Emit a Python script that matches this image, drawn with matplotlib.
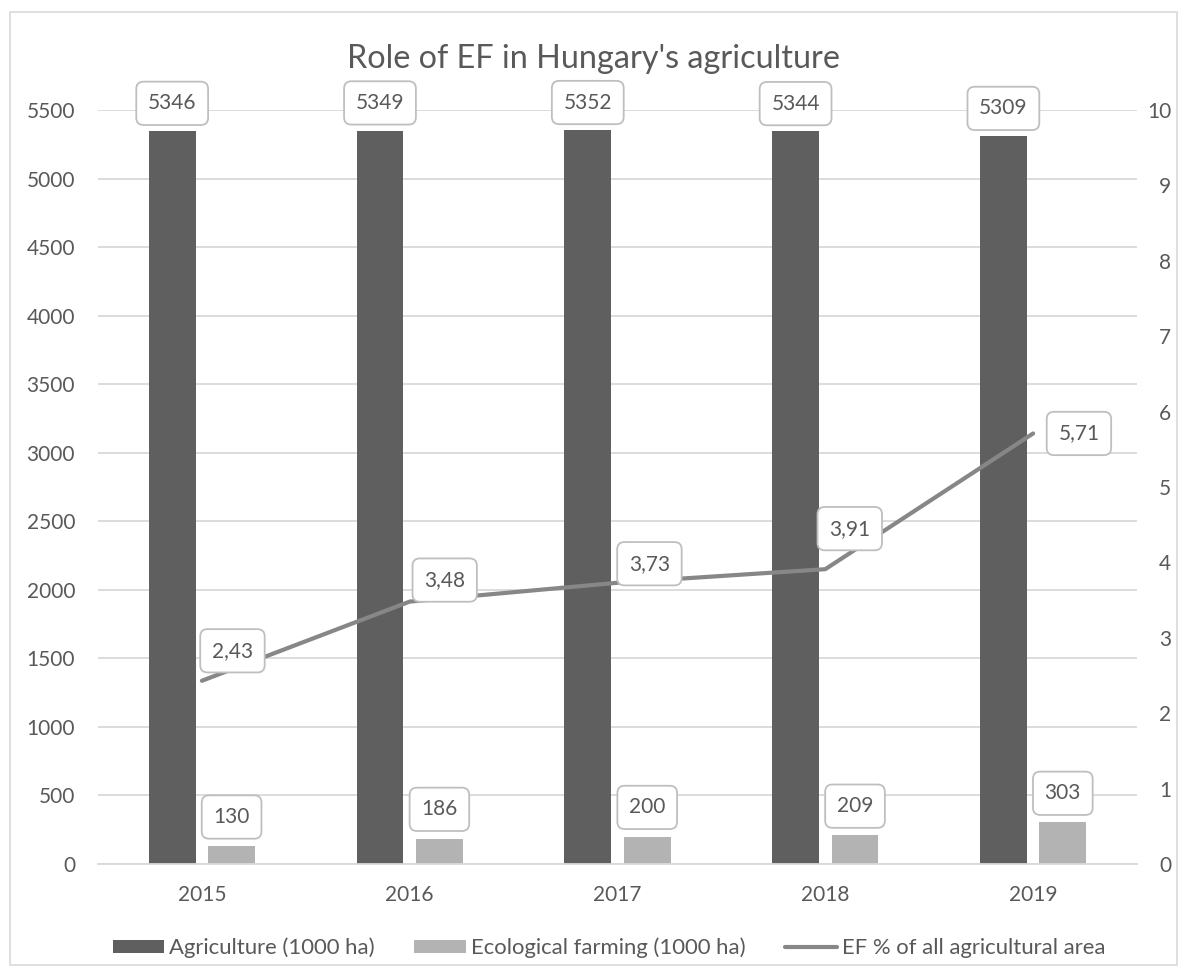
import matplotlib
matplotlib.use("Agg")
import matplotlib.pyplot as plt
import numpy as np
from matplotlib.patches import Rectangle

years = ["2015", "2016", "2017", "2018", "2019"]
agriculture = [5346, 5349, 5352, 5344, 5309]
ecological = [130, 186, 200, 209, 303]
ef_pct = [2.43, 3.48, 3.73, 3.91, 5.71]
ef_labels = ["2,43", "3,48", "3,73", "3,91", "5,71"]
left_ticks = list(range(0, 5501, 500))
right_ticks = list(range(0, 11))

plt.rcParams['font.family'] = ['Lato', 'DejaVu Sans']
TXT = "#595959"
GRID = "#d9d9d9"
DARK = "#5f5f5f"
LIGHT = "#b3b3b3"
LINE = "#878787"
FS = 15

W, H = 1187, 977
fig = plt.figure(figsize=(W / 100, H / 100), dpi=100)
fig.patches.append(Rectangle((10 / W, 12 / H), 1167 / W, 953 / H, transform=fig.transFigure,
                             fill=False, edgecolor=GRID, lw=1.2))

ax = fig.add_axes([98 / W, 1 - 864 / H, (1137 - 98) / W, (864 - 110) / H])
x = np.arange(len(years))
bw = 0.226
off = 0.143
ax.bar(x - off, agriculture, bw, color=DARK, zorder=2, label="Agriculture (1000 ha)")
ax.bar(x + off, ecological, bw, color=LIGHT, zorder=2, label="Ecological farming (1000 ha)")
ax.set_xlim(-0.5, len(years) - 0.5)
ax.set_ylim(0, 5500)
ax.set_yticks(left_ticks)
ax.yaxis.grid(True, color=GRID, lw=1.3, zorder=0)
ax.set_axisbelow(True)
for s in ["top", "right", "left"]:
    ax.spines[s].set_visible(False)
ax.spines["bottom"].set_color(GRID)
ax.spines["bottom"].set_linewidth(1.3)
ax.tick_params(axis="both", length=0, colors=TXT, labelsize=FS)
ax.tick_params(axis="y", pad=16.5)
ax.tick_params(axis="x", pad=15)
ax.set_xticks(x)
ax.set_xticklabels(years)

box = dict(boxstyle="round,pad=0.56,rounding_size=0.35", fc="white", ec="#bfbfbf", lw=1.3)
for xi, v in zip(x, agriculture):
    ax.annotate(str(v), (xi - off, v), xytext=(0, 20), textcoords="offset points",
                ha="center", va="center", fontsize=FS, color=TXT, bbox=box, zorder=5)
for xi, v in zip(x, ecological):
    ax.annotate(str(v), (xi + off, v), xytext=(0, 21), textcoords="offset points",
                ha="center", va="center", fontsize=FS, color=TXT, bbox=box, zorder=5)

ax2 = ax.twinx()
ax2.plot(x, ef_pct, color=LINE, lw=3.0, solid_capstyle="round", zorder=3,
         label="EF % of all agricultural area")
ax2.set_ylim(0, 10)
ax2.set_yticks(right_ticks)
for s in ["top", "right", "left", "bottom"]:
    ax2.spines[s].set_visible(False)
ax2.tick_params(axis="y", length=0, colors=TXT, labelsize=FS, pad=24.5)
for t in ax2.get_yticklabels():
    t.set_horizontalalignment("right")
line_offsets = [(22, 21.6), (25.2, 15.5), (23, 13.7), (17.6, 29.2), (33, 0)]
for xi, v, lab, o in zip(x, ef_pct, ef_labels, line_offsets):
    ax2.annotate(lab, (xi, v), xytext=o, textcoords="offset points",
                 ha="center", va="center", fontsize=FS, color=TXT, bbox=box, zorder=5)

fig.text(0.5, 1 - 59 / H, "Role of EF in Hungary's agriculture", ha="center", va="center",
         fontsize=23.3, color=TXT)

h1, l1 = ax.get_legend_handles_labels()
h2, l2 = ax2.get_legend_handles_labels()
leg = fig.legend(h1 + h2, l1 + l2, loc="center", bbox_to_anchor=(609 / W, 1 - 948 / H), ncol=3,
                 frameon=False, fontsize=15.9, labelcolor=TXT, handlelength=2.34,
                 handleheight=0.59, handletextpad=0.22, columnspacing=1.8)

fig.savefig("out.png", dpi=100)
